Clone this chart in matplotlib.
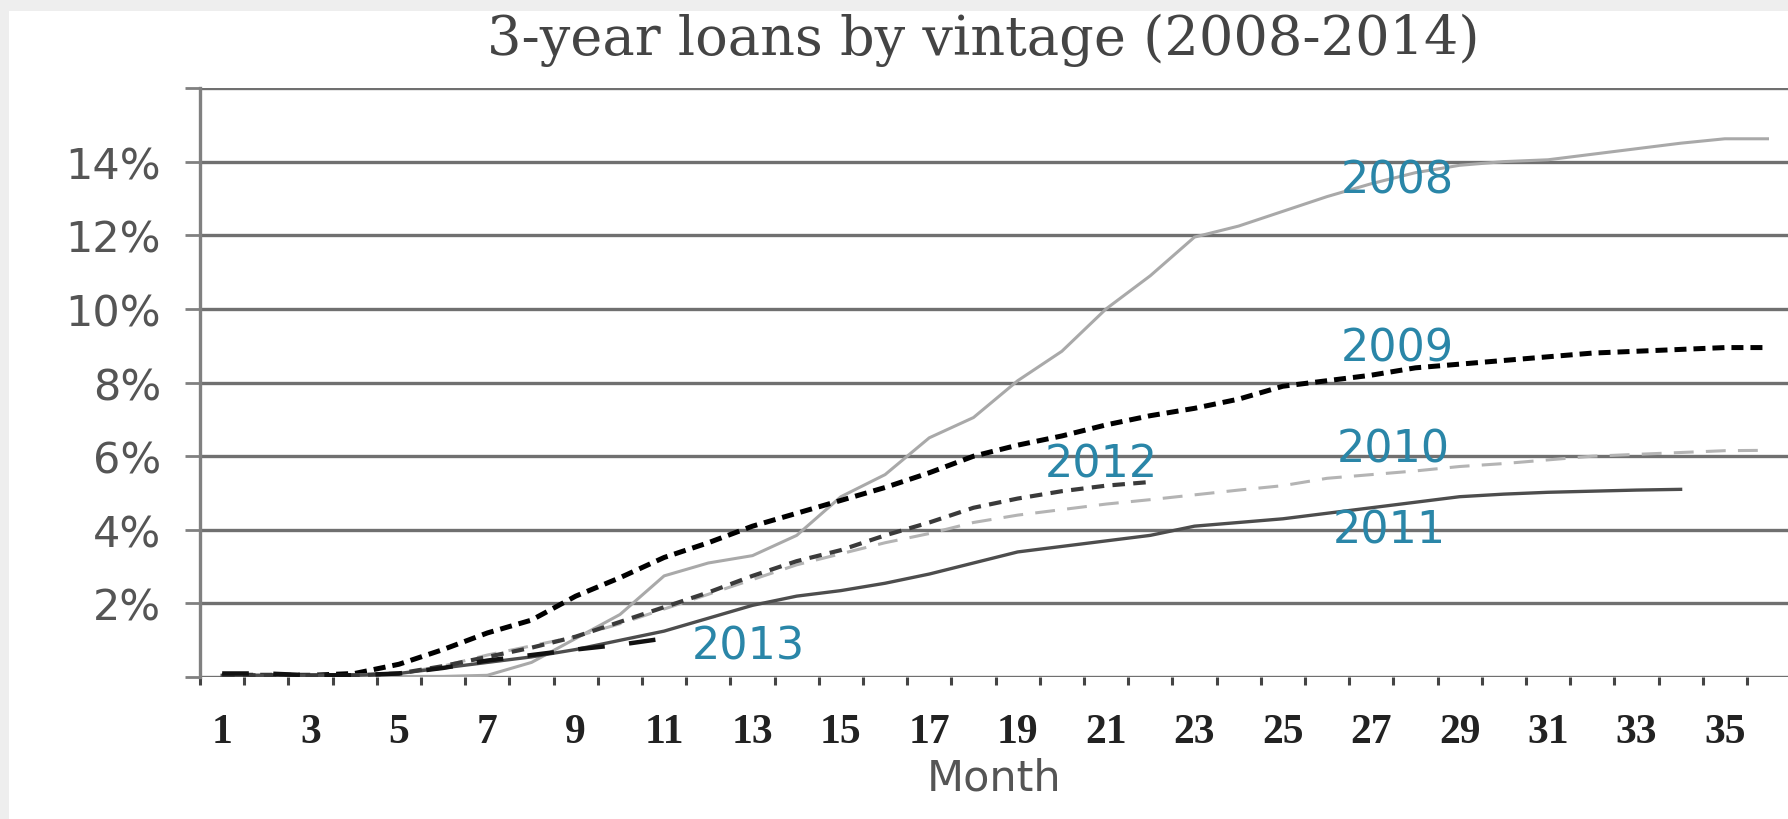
import numpy as np
import matplotlib
matplotlib.use("Agg")
import matplotlib.pyplot as plt
from matplotlib.patches import Rectangle
from matplotlib.ticker import FixedLocator, FuncFormatter

# cumulative loss rate (%) by month since origination
months = np.arange(1, 37)
v2008 = [0.05, 0.05, 0.03, 0.02, 0.02, 0.02, 0.05, 0.4, 1.05, 1.7, 2.75, 3.1,
         3.3, 3.85, 4.9, 5.5, 6.5, 7.05, 8.05, 8.85, 10.0, 10.9, 11.95, 12.25,
         12.65, 13.05, 13.4, 13.7, 13.9, 14.0, 14.05, 14.2, 14.35, 14.5, 14.62, 14.62]
v2009 = [0.05, 0.05, 0.05, 0.1, 0.35, 0.75, 1.2, 1.55, 2.2, 2.7, 3.25, 3.65,
         4.1, 4.45, 4.8, 5.15, 5.55, 6.0, 6.3, 6.55, 6.85, 7.1, 7.3, 7.55,
         7.9, 8.05, 8.2, 8.4, 8.5, 8.6, 8.7, 8.8, 8.85, 8.9, 8.95, 8.95]
v2010 = [0.05, 0.05, 0.05, 0.05, 0.1, 0.3, 0.6, 0.85, 1.1, 1.45, 1.85, 2.25,
         2.65, 3.05, 3.35, 3.65, 3.9, 4.2, 4.4, 4.55, 4.7, 4.82, 4.95, 5.08,
         5.2, 5.4, 5.5, 5.6, 5.72, 5.8, 5.9, 6.0, 6.05, 6.1, 6.15, 6.16]
v2011 = [0.05, 0.05, 0.05, 0.05, 0.1, 0.25, 0.4, 0.55, 0.75, 1.0, 1.25, 1.6,
         1.95, 2.2, 2.35, 2.55, 2.8, 3.1, 3.4, 3.55, 3.7, 3.85, 4.1, 4.2,
         4.3, 4.45, 4.6, 4.75, 4.9, 4.97, 5.02, 5.05, 5.08, 5.1]
v2012 = [0.05, 0.05, 0.05, 0.05, 0.1, 0.3, 0.55, 0.8, 1.1, 1.5, 1.9, 2.3,
         2.75, 3.15, 3.45, 3.85, 4.2, 4.6, 4.85, 5.05, 5.2, 5.3]
v2013 = [0.1, 0.1, 0.05, 0.05, 0.1, 0.25, 0.45, 0.6, 0.75, 0.88, 1.05]

vintages = ["2008", "2009", "2010", "2011", "2012", "2013"]
label_pos = [(27.6, 13.5), (27.6, 8.95), (27.5, 6.2), (27.4, 4.0), (20.9, 5.8), (12.9, 0.85)]

fig = plt.figure(figsize=(17.88, 8.2), dpi=100)
fig.patch.set_facecolor("white")
# light grey frame at top and left edge
fig.patches.append(Rectangle((0, 0.985), 1, 0.015, transform=fig.transFigure,
                             facecolor="#eeeeee", edgecolor="none"))
fig.patches.append(Rectangle((0, 0), 0.005, 1, transform=fig.transFigure,
                             facecolor="#eeeeee", edgecolor="none"))

ax = fig.add_axes([0.1119, 0.173, 0.8881, 0.7185])
ax.set_facecolor("none")

ax.plot(months[:len(v2008)], v2008, color="#a9a9a9", lw=2.2, solid_capstyle="butt", zorder=3)
ax.plot(months[:len(v2009)], v2009, color="black", lw=3.6, dashes=(2.4, 1.4), zorder=3)
ax.plot(months[:len(v2010)], v2010, color="#b4b4b4", lw=2.2, dashes=(6.5, 4), zorder=3)
ax.plot(months[:len(v2011)], v2011, color="#4d4d4d", lw=2.4, zorder=3)
ax.plot(months[:len(v2012)], v2012, color="#3a3a3a", lw=3.0, dashes=(3, 2), zorder=3)
ax.plot(months[:len(v2013)], v2013, color="#111111", lw=3.2, dashes=(6, 5.5), zorder=3)

for name, (x, y) in zip(vintages, label_pos):
    ax.text(x, y, name, color="#2a86a8", fontsize=32, family="DejaVu Sans",
            ha="center", va="center", zorder=5)

ax.set_xlim(0.5, 36.43)
ax.set_ylim(0, 16)

for s in ["top", "right", "bottom"]:
    ax.spines[s].set_visible(False)
ax.spines["left"].set_color("#808080")
ax.spines["left"].set_linewidth(2.4)

yt = np.arange(0, 17, 2)
ax.set_yticks(yt)
ax.yaxis.set_major_formatter(FuncFormatter(lambda v, p: "" if v in (0, 16) else "%d%%" % v))
ax.tick_params(axis="y", length=11, width=2, color="#808080", pad=17,
               labelsize=31, labelcolor="#555555")
ax.grid(axis="y", color="#707070", lw=2.4, zorder=1)

ax.xaxis.set_major_locator(FixedLocator(months[::2]))
ax.xaxis.set_minor_locator(FixedLocator(np.arange(0.5, 36.5, 1)))
ax.set_xticklabels([str(m) for m in months[::2]])
ax.tick_params(axis="x", which="major", length=0, pad=26, labelsize=30, labelcolor="#222222")
ax.tick_params(axis="x", which="minor", length=6, width=2.2, color="#444444")
for t in ax.get_xticklabels():
    t.set_family("Liberation Serif")
    t.set_fontweight("bold")
for t in ax.get_yticklabels():
    t.set_family("DejaVu Sans")

ax.set_xlabel("Month", fontsize=31, color="#555555", family="DejaVu Sans", labelpad=4)

fig.text(0.55, 0.951, "3-year loans by vintage (2008-2014)", fontsize=39,
         family="DejaVu Serif", color="#444444", ha="center", va="center")

fig.savefig("out.png", dpi=100, facecolor=fig.get_facecolor())
